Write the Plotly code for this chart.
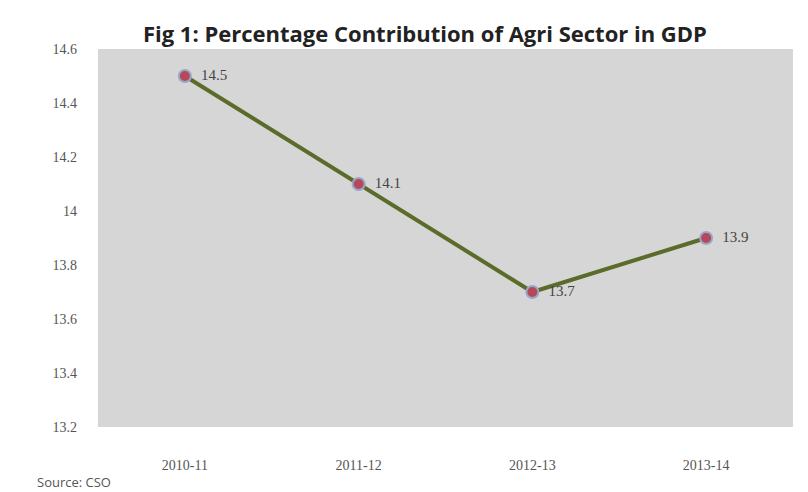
import plotly.graph_objects as go

years = ["2010-11", "2011-12", "2012-13", "2013-14"]
share = [14.5, 14.1, 13.7, 13.9]
labels = ["14.5", "14.1", "13.7", "13.9"]
y_ticks = [13.2, 13.4, 13.6, 13.8, 14.0, 14.2, 14.4, 14.6]
y_tick_text = ["13.2", "13.4", "13.6", "13.8", "14", "14.2", "14.4", "14.6"]

fig = go.Figure()
fig.add_trace(go.Scatter(
    x=years, y=share, mode="lines+markers+text",
    text=["  " + t for t in labels], textposition="middle right",
    textfont=dict(family="Liberation Serif, DejaVu Serif", size=15, color="#444444"),
    line=dict(color="#5a6b2a", width=4),
    marker=dict(symbol="circle", size=12, color="#b5485a",
                line=dict(color="#9aa6c8", width=2)),
    cliponaxis=False, showlegend=False,
))

fig.update_layout(
    width=808, height=492,
    margin=dict(l=90, r=23, t=41, b=73),
    paper_bgcolor="white",
    plot_bgcolor="#d6d6d6",
    title=dict(text="<b>Fig 1: Percentage Contribution of Agri Sector in GDP</b>",
               x=0.516, xanchor="center", y=0.947, yanchor="middle",
               font=dict(family="Open Sans, Liberation Sans", size=22, color="#222222")),
    xaxis=dict(type="category", range=[-0.5, 3.5], showgrid=False, zeroline=False,
               showline=False, ticks="",
               tickfont=dict(family="Liberation Serif, DejaVu Serif", size=14, color="#555555"),
               ticklabelstandoff=28),
    yaxis=dict(range=[13.2, 14.6], tickvals=y_ticks, ticktext=y_tick_text,
               showgrid=False, zeroline=False, showline=False, ticks="",
               tickfont=dict(family="Liberation Serif, DejaVu Serif", size=14, color="#555555"),
               ticklabelstandoff=20),
    annotations=[dict(text="Source: CSO", xref="paper", yref="paper",
                      x=-0.09, y=-0.146, xanchor="left", yanchor="middle", showarrow=False,
                      font=dict(family="Open Sans, Liberation Sans", size=13, color="#555555"))],
)

fig.write_html("out.html")
